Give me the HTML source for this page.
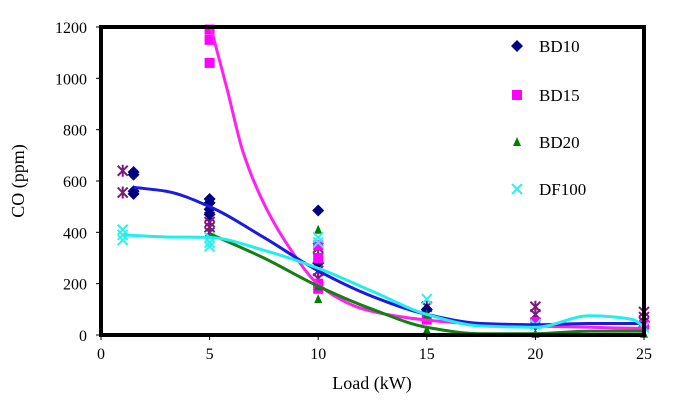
<!DOCTYPE html>
<html><head><meta charset="utf-8">
<style>
body{margin:0;background:#fff;}
svg{display:block;font-family:"Liberation Serif",serif;}
</style></head>
<body>
<svg id="chart" width="677" height="415" viewBox="0 0 677 415">
<rect width="677" height="415" fill="#fff"/>
<g id="marks"></g>
<rect x="101" y="27" width="543" height="308" fill="none" stroke="#000" stroke-width="4"/>
<g id="axes"></g>
<text x="0" y="0" transform="translate(24,181) rotate(-90)" text-anchor="middle" font-size="18">CO (ppm)</text>
<text x="372" y="389" text-anchor="middle" font-size="18">Load (kW)</text>
<g id="legend"></g>
</svg>
<script>
const xTicks=[0,5,10,15,20,25];
const yTicks=[0,200,400,600,800,1000,1200];
const seriesNames=["BD10","BD15","BD20","DF100"];
const bd10X=[1.5,1.5,1.5,1.5,5,5,5,5,10,10,15,20,25];
const bd10Y=[635,625,560,550,530,515,490,470,485,280,100,40,50];
const bd15X=[5,5,5,10,10,10,10,15,20,25];
const bd15Y=[1190,1150,1060,350,300,200,180,60,50,40];
const bd20X=[10,10,10,15,15,20,25];
const bd20Y=[410,190,140,80,20,5,5];
const df100X=[1,1,1,5,5,5,10,10,15,20,25];
const df100Y=[410,390,370,380,360,345,380,360,140,40,30];
const otherX=[1,1,5,5,5,5,10,10,10,10,15,20,20,25,25,25];
const otherY=[640,555,460,440,420,400,340,300,250,220,110,110,80,90,70,50];
const fit10X=[1.5,3,5,7.5,10,12.5,15,17.5,20,22.5,25];
const fit10Y=[575,560,500,380,250,150,80,45,40,45,45];
const fit15X=[5.05,5.8,6.55,7.6,8.85,9.9,11,12,13.5,15,17.5,20,22.5,25];
const fit15Y=[1200,960,710,495,318,205,140,103,75,58,42,35,30,25];
const fit20X=[5,7.5,10,12.5,15,17.5,20,22.5,25];
const fit20Y=[395,300,190,100,30,5,5,15,15];
const fitDFX=[1,3,5,7.5,10,12.5,15,17.5,20,22.5,24.5,25];
const fitDFY=[390,382,380,330,260,170,80,35,30,75,60,30];

const NS="http://www.w3.org/2000/svg";
const X0=101,X1=644,Y0=335,Y1=27;
function sx(v){return X0+(v-0)/(25-0)*(X1-X0);}
function sy(v){return Y0-(v-0)/(1200-0)*(Y0-Y1);}
function mk(tag,attrs,parent){const e=document.createElementNS(NS,tag);for(const k in attrs)e.setAttribute(k,attrs[k]);parent.appendChild(e);return e;}
const marks=document.getElementById('marks'),axes=document.getElementById('axes'),legend=document.getElementById('legend');

xTicks.forEach(t=>{
  const l=mk('line',{x1:sx(t),x2:sx(t),y1:Y0,y2:Y0+5,stroke:'#000','stroke-width':1},axes);
  
  
  const tx=mk('text',{x:sx(t),y:Y0+24,'text-anchor':'middle','font-size':16},axes);
  tx.textContent=t;
  
  
});
yTicks.forEach(t=>{
  const l=mk('line',{x1:X0-5,x2:X0,y1:sy(t),y2:sy(t),stroke:'#000','stroke-width':1},axes);
  
  
  const tx=mk('text',{x:X0-14,y:sy(t)+6,'text-anchor':'end','font-size':16},axes);
  tx.textContent=t;
  
  
});

// monotone cubic (Fritsch-Carlson) in pixel space
function smooth(xs,ys){
  const px=xs.map(sx),py=ys.map(sy),n=px.length;
  const d=[],m=[];
  for(let i=0;i<n-1;i++)d.push((py[i+1]-py[i])/(px[i+1]-px[i]));
  m[0]=d[0];m[n-1]=d[n-2];
  for(let i=1;i<n-1;i++){
    if(d[i-1]*d[i]<=0)m[i]=0;
    else{const h0=px[i]-px[i-1],h1=px[i+1]-px[i];const w1=2*h1+h0,w2=h1+2*h0;m[i]=(w1+w2)/(w1/d[i-1]+w2/d[i]);}
  }
  let s='M'+px[0]+','+py[0];
  for(let i=0;i<n-1;i++){
    const h=(px[i+1]-px[i])/3;
    s+=' C'+(px[i]+h)+','+(py[i]+m[i]*h)+' '+(px[i+1]-h)+','+(py[i+1]-m[i+1]*h)+' '+px[i+1]+','+py[i+1];
  }
  return s;
}
function marker(type,cx,cy,color,parent){
  let e;
  if(type==='diamond') e=mk('polygon',{points:`${cx},${cy-6} ${cx+6},${cy} ${cx},${cy+6} ${cx-6},${cy}`,fill:color},parent);
  else if(type==='square') e=mk('rect',{x:cx-5,y:cy-5,width:10,height:10,fill:color},parent);
  else if(type==='tri') e=mk('polygon',{points:`${cx},${cy-5} ${cx+4},${cy+4} ${cx-4},${cy+4}`,fill:color},parent);
  else if(type==='x') e=mk('path',{d:`M${cx-5},${cy-5}L${cx+5},${cy+5}M${cx+5},${cy-5}L${cx-5},${cy+5}`,stroke:color,'stroke-width':2},parent);
  else e=mk('path',{d:`M${cx-5},${cy-5}L${cx+5},${cy+5}M${cx+5},${cy-5}L${cx-5},${cy+5}M${cx},${cy-6}L${cx},${cy+6}`,stroke:color,'stroke-width':2},parent);
  return e;
}
const scat=[[otherX,otherY,'star','#7b1a7b','other'],[bd10X,bd10Y,'diamond','#000080','bd10'],[bd15X,bd15Y,'square','#ff00ff','bd15'],[bd20X,bd20Y,'tri','#008000','bd20'],[df100X,df100Y,'x','#33eeee','df100']];
scat.forEach(s=>{
  s[0].forEach((x,i)=>{
    const m=marker(s[2],sx(x),sy(s[1][i]),s[3],marks);
    
    
  });
});
const fits=[[fit15X,fit15Y,'#ff22ee','bd15'],[fit10X,fit10Y,'#1a1ae0','bd10'],[fit20X,fit20Y,'#128012','bd20'],[fitDFX,fitDFY,'#22eeee','df100']];
fits.forEach(f=>{
  const p=mk('path',{d:smooth(f[0],f[1]),fill:'none',stroke:f[2],'stroke-width':3},marks);
  
  
});
const legTypes=['diamond','square','tri','x'],legCols=['#000080','#ff00ff','#008000','#33eeee'],legY=[46,95,142,189];
seriesNames.forEach((n,i)=>{
  const g=mk('g',{},legend);
  
  
  marker(legTypes[i],517,legY[i],legCols[i],g);
  const t=mk('text',{x:539,y:legY[i]+6,'font-size':17},g);
  t.textContent=n;
});
</script>
</body></html>
